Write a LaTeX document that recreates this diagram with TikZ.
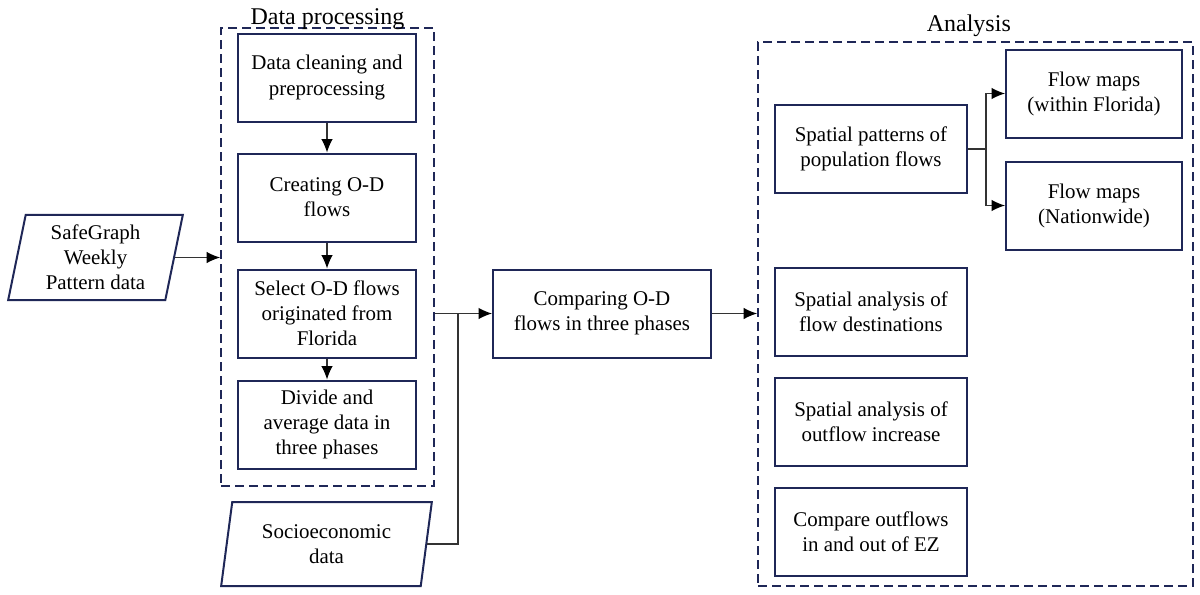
\documentclass[tikz,border=0pt]{standalone}
\usepackage{fontspec}
\setmainfont{Liberation Serif}
\usetikzlibrary{arrows.meta,shapes.geometric}
\definecolor{navy}{HTML}{1F2757}
\tikzset{
  box/.style={draw=navy,line width=1.5pt,minimum width=133.5pt,minimum height=66pt,
    align=center,inner sep=2pt,font=\fontsize{15.7}{18.8}\selectfont},
  abox/.style={box,minimum width=144pt},
  data/.style={box,trapezium,trapezium left angle=76,trapezium right angle=104,
    trapezium stretches body,minimum width=131pt,minimum height=64pt},
  group/.style={draw=navy,line width=1.4pt,dash pattern=on 6.5pt off 4pt},
  grpname/.style={anchor=base,font=\fontsize{18}{21}\selectfont},
  link/.style={draw=black!80,line width=0.8pt},
  arr/.style={link,-{Latex[length=10pt,width=8.5pt,color=black]}}
}

\begin{document}
\begin{tikzpicture}[x=0.75pt,y=-0.75pt]
\useasboundingbox (0,0) rectangle (1200,594);
\node[group,minimum width=159.75pt,minimum height=343.5pt] (dp) at (327.5,257) {};
\node[grpname] at ([yshift=2.25pt]dp.north) {Data processing};
\node[group,minimum width=326.25pt,minimum height=408pt] (an) at (975.5,314) {};
\node[grpname] at ([xshift=-5pt,yshift=7.5pt]an.north) {Analysis};

\node[box] (clean) at (327,77.5) {Data cleaning and\\preprocessing};
\node[box] (create) at (327,197.5) {Creating O-D\\flows};
\node[box] (select) at (327,313.5) {Select O-D flows\\originated from\\Florida};
\node[box] (divide) at (327,424.5) {Divide and\\average data in\\three phases};
\node[data] (sg) at (95.5,257.5) {SafeGraph\\Weekly\\Pattern data};
\node[data,minimum width=158pt,minimum height=63pt] (socio) at (326.5,544) {Socioeconomic\\data};
\node[box,minimum width=163.5pt] (cmp) at (602,313.5) {Comparing O-D\\flows in three phases};
\node[abox] (pat) at (871,149) {Spatial patterns of\\population flows};
\node[box,minimum width=132pt] (fmfl) at (1094,93.5) {Flow maps\\(within Florida)};
\node[box,minimum width=132pt] (fmus) at (1094,205.5) {Flow maps\\(Nationwide)};
\node[abox] (dest) at (871,311.5) {Spatial analysis of\\flow destinations};
\node[abox] (incr) at (871,422) {Spatial analysis of\\outflow increase};
\node[abox] (ez) at (871,532) {Compare outflows\\in and out of EZ};

\coordinate (jn) at (458,313.5);
\coordinate (br) at (986,149);
\draw[arr] (clean) -- (create);
\draw[arr] (create) -- (select);
\draw[arr] (select) -- (divide);
\draw[arr] (sg.east) -- (sg.east -| dp.west);
\draw[arr] (cmp.west -| dp.east) -- (cmp.west);
\draw[link] (socio.east) -| (jn);
\draw[arr] (cmp.east) -- (cmp.east -| an.west);
\draw[link] (pat.east) -- (br);
\draw[arr] (br) |- (fmfl.west);
\draw[arr] (br) |- (fmus.west);
\end{tikzpicture}
\end{document}
